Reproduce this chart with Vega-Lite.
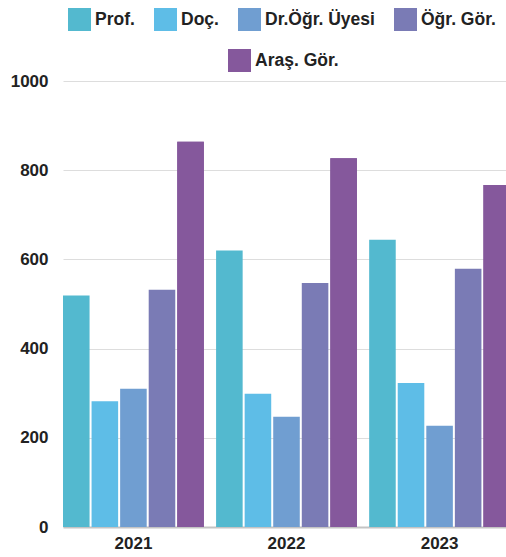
{
  "$schema": "https://vega.github.io/schema/vega-lite/v6.json",
  "autosize": {"type": "none"},
  "padding": {"left": 63, "top": 81, "right": 0, "bottom": 30},
  "width": 447,
  "height": 446,
  "background": "white",
  "config": {
    "view": {"stroke": null},
    "font": "Liberation Sans",
    "axis": {"labelFont": "Liberation Sans", "labelFontSize": 17, "labelFontWeight": "bold", "labelColor": "#222222", "title": null}
  },
  "data": {
    "values": [
      {"year": "2021", "kadro": "Prof.", "count": 519},
      {"year": "2021", "kadro": "Doç.", "count": 282},
      {"year": "2021", "kadro": "Dr.Öğr. Üyesi", "count": 310},
      {"year": "2021", "kadro": "Öğr. Gör.", "count": 532},
      {"year": "2021", "kadro": "Araş. Gör.", "count": 864},
      {"year": "2022", "kadro": "Prof.", "count": 620},
      {"year": "2022", "kadro": "Doç.", "count": 299},
      {"year": "2022", "kadro": "Dr.Öğr. Üyesi", "count": 247},
      {"year": "2022", "kadro": "Öğr. Gör.", "count": 547},
      {"year": "2022", "kadro": "Araş. Gör.", "count": 827},
      {"year": "2023", "kadro": "Prof.", "count": 644},
      {"year": "2023", "kadro": "Doç.", "count": 323},
      {"year": "2023", "kadro": "Dr.Öğr. Üyesi", "count": 227},
      {"year": "2023", "kadro": "Öğr. Gör.", "count": 579},
      {"year": "2023", "kadro": "Araş. Gör.", "count": 767}
    ]
  },
  "encoding": {
    "x": {
      "field": "year", "type": "nominal",
      "scale": {"paddingInner": 0.08, "paddingOuter": 0},
      "axis": {"labelAngle": 0, "ticks": false, "tickSize": 0, "labelPadding": 8, "domain": true, "domainColor": "#C4C4C4", "domainWidth": 2, "grid": false}
    },
    "xOffset": {
      "field": "kadro", "type": "nominal",
      "scale": {"domain": ["Prof.", "Doç.", "Dr.Öğr. Üyesi", "Öğr. Gör.", "Araş. Gör."], "paddingInner": 0.07, "paddingOuter": 0}
    },
    "y": {
      "field": "count", "type": "quantitative",
      "scale": {"domain": [0, 1000], "nice": false},
      "axis": {"values": [0, 200, 400, 600, 800, 1000], "format": "d", "domain": false, "ticks": false, "tickSize": 0, "labelPadding": 15, "grid": true, "gridColor": "#DDDDDD", "gridWidth": 1.2}
    }
  },
  "layer": [
    {
      "mark": {"type": "bar"},
      "encoding": {
        "color": {
          "field": "kadro", "type": "nominal",
          "scale": {"domain": ["Prof.", "Doç.", "Dr.Öğr. Üyesi", "Öğr. Gör.", "Araş. Gör."], "range": ["#53B9CF", "#5EBDE7", "#709ED1", "#7A7BB5", "#85589C"]},
          "legend": {
            "values": ["Prof.", "Doç.", "Dr.Öğr. Üyesi", "Öğr. Gör."],
            "title": null, "orient": "none", "direction": "horizontal",
            "legendX": 5, "legendY": -73,
            "symbolType": "square", "symbolSize": 529, "symbolStrokeWidth": 0,
            "labelFont": "Liberation Sans", "labelFontSize": 17.5, "labelFontWeight": "bold", "labelColor": "#222222",
            "labelOffset": 4, "columnPadding": 19
          }
        }
      }
    },
    {
      "transform": [{"filter": "datum.kadro === 'Araş. Gör.'"}],
      "mark": {"type": "bar"},
      "encoding": {
        "color": {
          "field": "kadro", "type": "nominal",
          "scale": {"domain": ["Prof.", "Doç.", "Dr.Öğr. Üyesi", "Öğr. Gör.", "Araş. Gör."], "range": ["#53B9CF", "#5EBDE7", "#709ED1", "#7A7BB5", "#85589C"]},
          "legend": {
            "values": ["Araş. Gör."],
            "title": null, "orient": "none", "direction": "horizontal",
            "legendX": 165, "legendY": -32,
            "symbolType": "square", "symbolSize": 529, "symbolStrokeWidth": 0,
            "labelFont": "Liberation Sans", "labelFontSize": 17.5, "labelFontWeight": "bold", "labelColor": "#222222",
            "labelOffset": 4, "columnPadding": 19
          }
        }
      }
    }
  ],
  "resolve": {"scale": {"color": "independent"}}
}
